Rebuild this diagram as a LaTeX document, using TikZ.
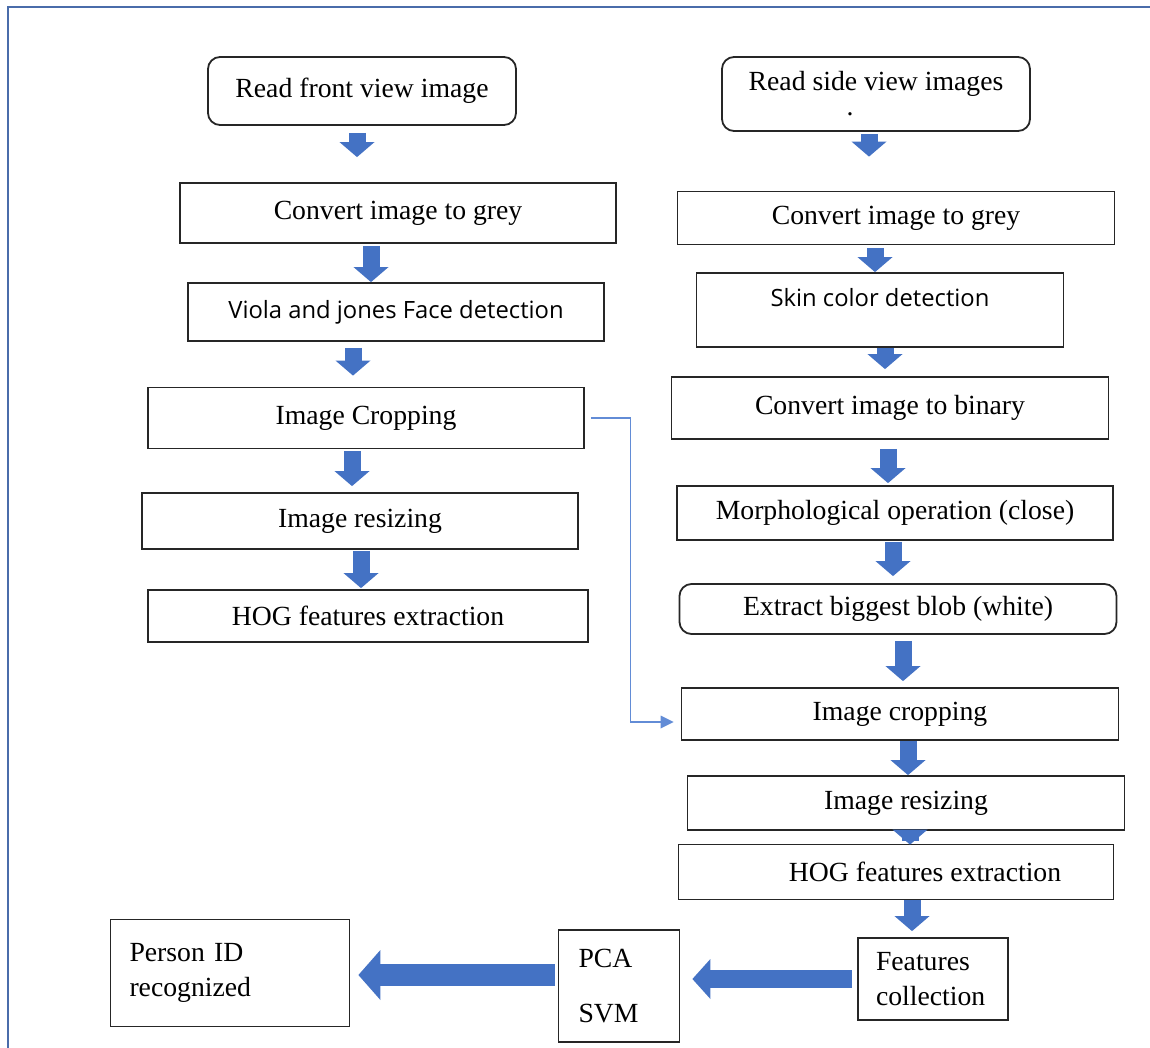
\documentclass[tikz,border=0pt]{standalone}
\usepackage{fontspec}
\setmainfont{Liberation Serif}
\newfontfamily\sansfont{Open Sans}
\usetikzlibrary{arrows.meta}
\definecolor{arrowblue}{RGB}{68,114,196}
\definecolor{linkblue}{RGB}{98,140,214}
\definecolor{framecol}{RGB}{74,108,170}
\begin{document}
\begin{tikzpicture}[x=1pt,y=-1pt,
	box/.style={draw=black!85, line width=1.8pt, inner sep=0pt, align=center, font=\fontsize{27.7}{35}\selectfont},
	roundbox/.style={box, rounded corners=12pt},
	sansbox/.style={box, font=\sansfont\fontsize{23.8}{30}\selectfont},
	leftbox/.style={box, align=left, inner xsep=19pt},
	fat/.style={draw=arrowblue, line width=17pt, -{Triangle[length=15pt,width=35pt,line width=0pt]}},
	wide/.style={draw=arrowblue, line width=20pt, -{Triangle[length=20pt,width=46pt,line width=0pt]}},
	thinlink/.style={draw=linkblue, line width=1.6pt, -{Triangle[length=13pt,width=13pt,line width=0pt]}}]
			\useasboundingbox (0,0) rectangle (1150,1048);
			\draw[framecol, line width=2.5pt] (8,1048) -- (8,7) -- (1150,7);
			
			\node[roundbox, minimum width=308pt, minimum height=68pt] (front) at (362,91) {Read front view image};
			\node[box, minimum width=436pt, minimum height=60pt] (grey1) at (398,213) {Convert image to grey};
			\node[sansbox, minimum width=416pt, minimum height=58pt] (viola) at (396,312) {Viola and jones Face detection};
			\node[box, minimum width=436pt, minimum height=61pt] (crop1) at (366,418) {Image Cropping};
			\node[box, minimum width=436pt, minimum height=56pt] (resize1) at (360,521) {Image resizing};
			\node[box, minimum width=440pt, minimum height=52pt] (hog1) at (368,616) {HOG features extraction};
			
			\node[roundbox, minimum width=308pt, minimum height=74pt] (side) at (876,94) {Read side view images\\[-10pt].\hspace*{52pt}};
			\node[box, minimum width=437pt, minimum height=53pt] (grey2) at (896,218) {Convert image to grey};
			\node[sansbox, minimum width=367pt, minimum height=74pt] (skin) at (880,310) {Skin color detection\\[-4pt]~};
			\node[box, minimum width=437pt, minimum height=62pt] (binary) at (890,408) {Convert image to binary};
			\node[box, minimum width=436pt, minimum height=54pt] (morph) at (895,513) {Morphological operation (close)};
			\node[roundbox, minimum width=437pt, minimum height=50pt] (blob) at (898,609) {Extract biggest blob (white)};
			\node[box, minimum width=437pt, minimum height=52pt] (crop2) at (900,714) {Image cropping};
			\node[box, minimum width=437pt, minimum height=54pt] (resize2) at (906,803) {Image resizing};
			\node[box, minimum width=435pt, minimum height=55pt] (hog2) at (896,872) {\hspace*{58pt}HOG features extraction};
			
			\node[leftbox, text width=114pt, inner xsep=18pt, minimum height=82pt] (feat) at (933,979) {Features\\collection};
			\node[leftbox, text width=81pt, inner xsep=20pt, minimum height=112pt] (pca) at (619,986) {PCA\\[20pt]SVM};
			\node[leftbox, text width=201pt, minimum height=107pt] (person) at (230,973) {Person ID\\recognized};
			
			\draw[fat, shorten <=7pt, shorten >=25pt] (front.south -| 357,0) -- (grey1.north -| 357,0);
			\draw[fat, shorten <=2pt] (grey1.south -| 371,0) -- (viola.north -| 371,0);
			\draw[fat, shorten <=6pt, shorten >=11pt] (viola.south -| 353,0) -- (crop1.north -| 353,0);
			\draw[fat, shorten <=2pt, shorten >=6pt] (crop1.south -| 352,0) -- (resize1.north -| 352,0);
			\draw[fat, shorten <=1pt, shorten >=1pt] (resize1.south -| 361,0) -- (hog1.north -| 361,0);
			
			\draw[fat, shorten <=2pt, shorten >=34pt] (side.south -| 869,0) -- (grey2.north -| 869,0);
			\draw[fat, shorten <=3pt] (grey2.south -| 875,0) -- (skin.north -| 875,0);
			\draw[fat, shorten >=7pt] (skin.south -| 885,0) -- (binary.north -| 885,0);
			\draw[fat, shorten <=9pt, shorten >=2pt] (binary.south -| 888,0) -- (morph.north -| 888,0);
			\draw[fat, shorten <=1pt, shorten >=7pt] (morph.south -| 893,0) -- (blob.north -| 893,0);
			\draw[fat, shorten <=6pt, shorten >=6pt] (blob.south -| 903,0) -- (crop2.north -| 903,0);
			\draw[fat] (crop2.south -| 908,0) -- (resize2.north -| 908,0);
			\draw[fat, shorten <=-10pt, shorten >=-1pt] (resize2.south -| 910,0) -- (hog2.north -| 910,0);
			\draw[fat, shorten >=6pt] (hog2.south -| 912,0) -- (feat.north -| 912,0);
			
			\draw[wide, line width=18pt, -{Triangle[length=18pt,width=40pt,line width=0pt]}, shorten <=5pt, shorten >=12pt] (feat.west) -- (feat.west -| pca.east);
			\draw[wide, line width=22pt, -{Triangle[length=22pt,width=50pt,line width=0pt]}, shorten <=3pt, shorten >=8pt] ([yshift=11pt]pca.west) -- ([yshift=11pt]pca.west -| person.east);
			
			\draw[thinlink, shorten <=6pt, shorten >=7pt] (crop1.east) -| ([xshift=-50pt,yshift=-8pt]crop2.west) -- ([yshift=-8pt]crop2.west);
		\end{tikzpicture}
\end{document}
